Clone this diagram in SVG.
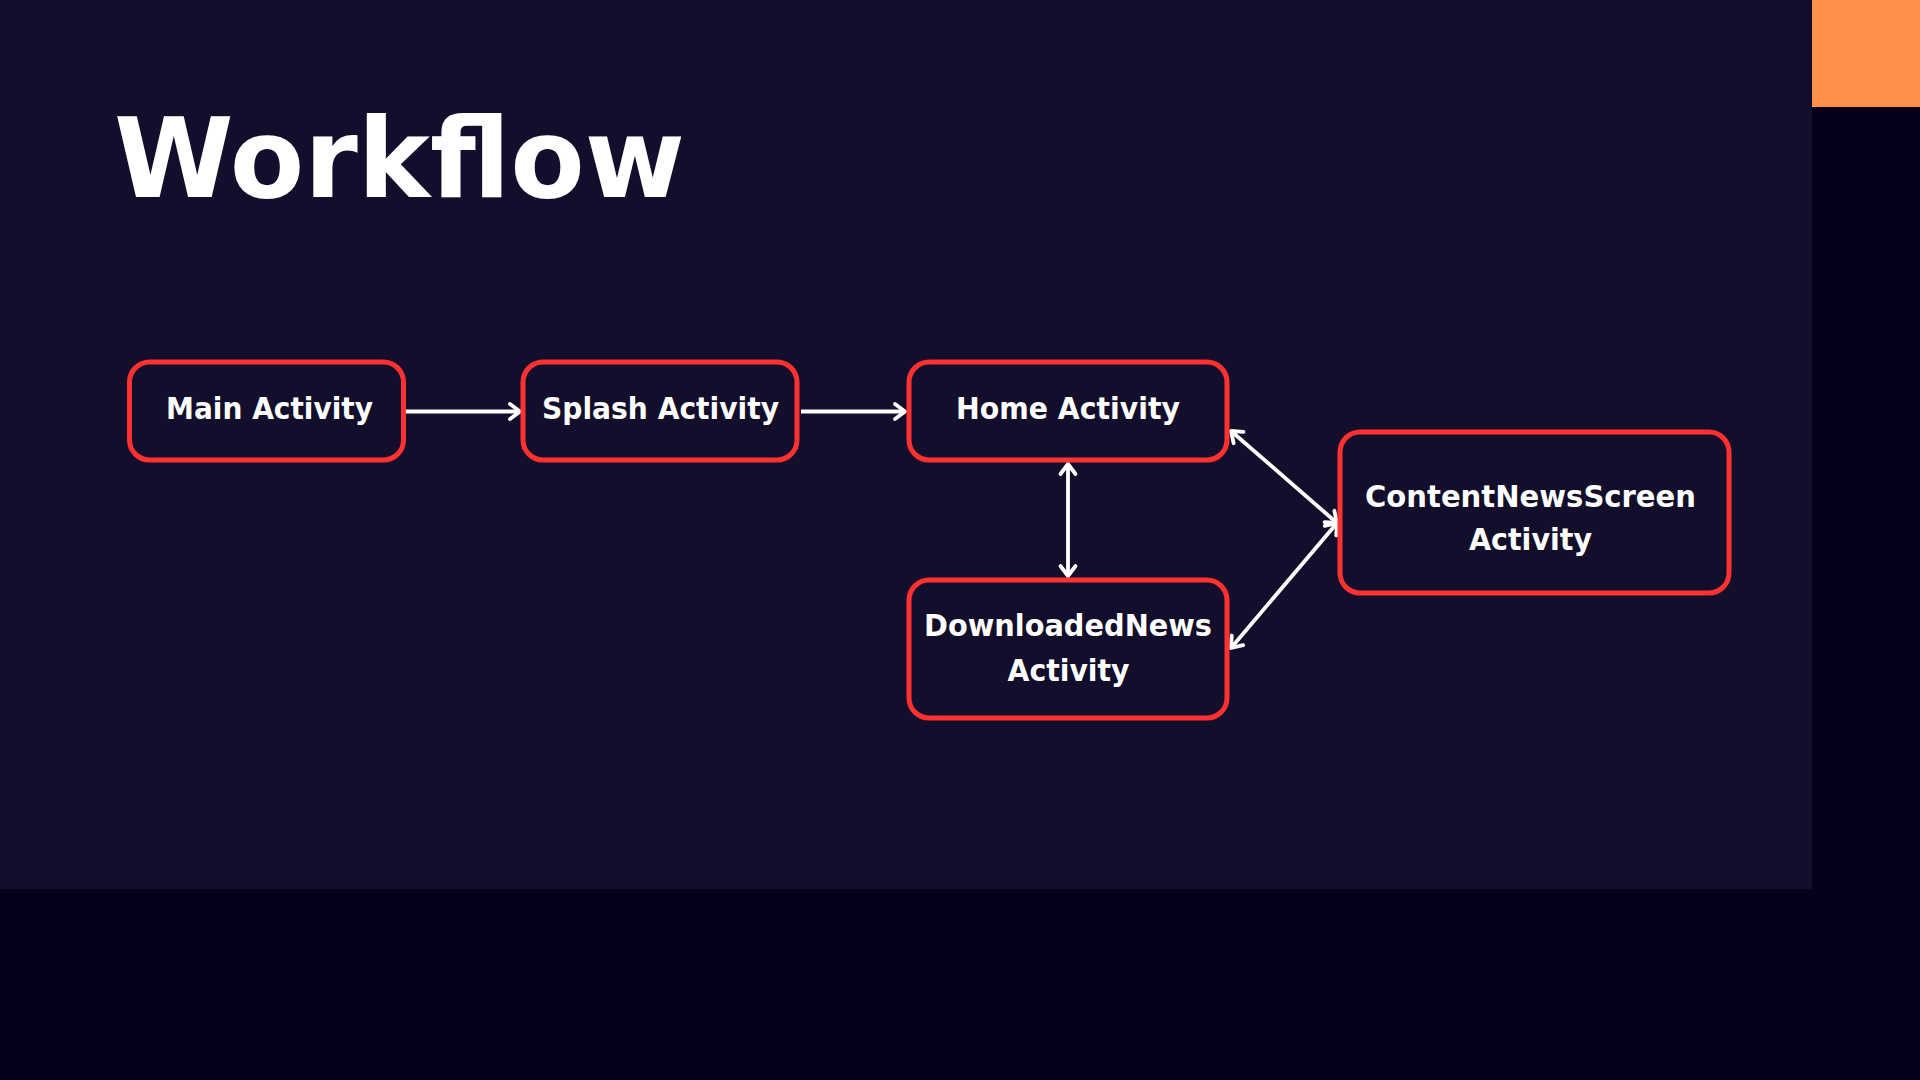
<svg xmlns="http://www.w3.org/2000/svg" width="1920" height="1080" viewBox="0 0 1920 1080">
  <defs>
    <style>
      .node rect { fill: #130e2b; stroke: #ff3131; stroke-width: 5; }
      .label { font-family: "DejaVu Sans", "Liberation Sans", sans-serif; font-weight: bold; font-size: 30px; fill: #ffffff; text-anchor: middle; }
      .title { font-family: "DejaVu Sans", "Liberation Sans", sans-serif; font-weight: bold; font-size: 110px; fill: #ffffff; }
      .edge { stroke: #ffffff; stroke-width: 3.8; fill: none; }
    </style>
    <marker id="head" viewBox="-15 -15 30 30" refX="0" refY="0" markerWidth="30" markerHeight="30" markerUnits="userSpaceOnUse" orient="auto-start-reverse" overflow="visible">
      <path d="M-10,-7.5 L0,0 L-10,7.5" fill="none" stroke="#ffffff" stroke-width="3.8" stroke-linecap="round" stroke-linejoin="round"/>
    </marker>
  </defs>

  <!-- backdrop -->
  <rect x="0" y="0" width="1920" height="1080" fill="#04001c"/>
  <rect x="0" y="0" width="1812" height="889" fill="#130e2b"/>
  <rect x="1812" y="0" width="108" height="107" fill="#ff914d"/>

  <text class="title" x="114" y="197" textLength="571" lengthAdjust="spacingAndGlyphs">Workflow</text>

  <!-- connectors -->
  <g id="connectors">
    <line class="edge" x1="406" y1="411.5" x2="520" y2="411.5" marker-end="url(#head)"/>
    <line class="edge" x1="801" y1="411.5" x2="905" y2="411.5" marker-end="url(#head)"/>
    <line class="edge" x1="1068" y1="464" x2="1068" y2="576" marker-start="url(#head)" marker-end="url(#head)"/>
    <line class="edge" x1="1231" y1="431" x2="1337" y2="523" marker-start="url(#head)" marker-end="url(#head)"/>
    <line class="edge" x1="1337" y1="523" x2="1231" y2="648" marker-start="url(#head)" marker-end="url(#head)"/>
  </g>

  <!-- nodes -->
  <g id="main-activity" class="node">
    <rect x="129.5" y="362" width="274" height="98" rx="20"/>
    <text class="label" x="269.5" y="419" textLength="207" lengthAdjust="spacingAndGlyphs">Main Activity</text>
  </g>
  <g id="splash-activity" class="node">
    <rect x="523" y="362" width="274" height="98" rx="20"/>
    <text class="label" x="660.5" y="419" textLength="237" lengthAdjust="spacingAndGlyphs">Splash Activity</text>
  </g>
  <g id="home-activity" class="node">
    <rect x="909" y="362" width="318" height="98" rx="20"/>
    <text class="label" x="1068" y="419" textLength="224" lengthAdjust="spacingAndGlyphs">Home Activity</text>
  </g>
  <g id="downloaded-news-activity" class="node">
    <rect x="909" y="580" width="318" height="138" rx="20"/>
    <text class="label" x="1068" y="636" textLength="288" lengthAdjust="spacingAndGlyphs">DownloadedNews</text>
    <text class="label" x="1068.5" y="681" textLength="122" lengthAdjust="spacingAndGlyphs">Activity</text>
  </g>
  <g id="content-news-screen-activity" class="node">
    <rect x="1340" y="432" width="389" height="161" rx="20"/>
    <text class="label" x="1530.5" y="507" textLength="331" lengthAdjust="spacingAndGlyphs">ContentNewsScreen</text>
    <text class="label" x="1530.5" y="550" textLength="123" lengthAdjust="spacingAndGlyphs">Activity</text>
  </g>
</svg>
